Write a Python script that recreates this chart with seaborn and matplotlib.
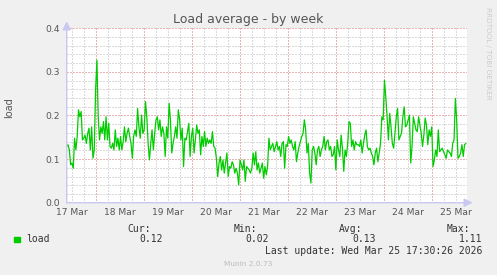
import numpy as np
import pandas as pd
import matplotlib
matplotlib.use("Agg")
import matplotlib.pyplot as plt
import matplotlib.dates as mdates
import seaborn as sns

# ---------------- data ----------------
title = "Load average - by week"
y_label = "load"
series_name = "load"
t_start = "2026-03-17 09:30"
t_end = "2026-03-25 17:30"
data_end = "2026-03-25 17:05"

load_a = [0.129, 0.133, 0.121, 0.087, 0.091, 0.079, 0.148, 0.121, 0.152, 0.213, 0.197, 0.209,
          0.144, 0.148, 0.155, 0.136, 0.159, 0.171, 0.121, 0.174, 0.102, 0.121, 0.258, 0.327,
          0.197, 0.144, 0.174, 0.159, 0.186, 0.144, 0.197, 0.144, 0.182, 0.129, 0.125, 0.136,
          0.121, 0.167, 0.129, 0.148, 0.121, 0.152, 0.121, 0.140, 0.174, 0.140, 0.159, 0.171,
          0.152, 0.136, 0.102, 0.152, 0.167, 0.152, 0.216, 0.174, 0.148, 0.201, 0.159, 0.167,
          0.232, 0.197, 0.136, 0.098, 0.136, 0.167, 0.121, 0.159, 0.190, 0.197, 0.167, 0.190,
          0.152, 0.174, 0.159, 0.106]
load_b = [0.174, 0.148, 0.228, 0.190, 0.114, 0.136, 0.152, 0.174, 0.148, 0.213, 0.190, 0.144,
          0.171, 0.083, 0.148, 0.144, 0.163, 0.182, 0.106, 0.152, 0.171, 0.114, 0.144, 0.178,
          0.159, 0.167, 0.110, 0.152, 0.129, 0.163, 0.129, 0.148, 0.136, 0.144, 0.136, 0.163,
          0.129, 0.125, 0.102, 0.060, 0.091, 0.106, 0.075, 0.098, 0.068, 0.091, 0.114, 0.060,
          0.083, 0.079, 0.094, 0.087, 0.068, 0.079, 0.068, 0.041, 0.098, 0.087, 0.075, 0.098,
          0.049, 0.083, 0.079, 0.075, 0.068, 0.079, 0.114, 0.087, 0.117, 0.075, 0.091, 0.068,
          0.079, 0.091, 0.056, 0.083]
load_c = [0.064, 0.083, 0.148, 0.121, 0.129, 0.136, 0.117, 0.129, 0.140, 0.121, 0.129, 0.106,
          0.136, 0.140, 0.079, 0.133, 0.129, 0.152, 0.136, 0.144, 0.129, 0.121, 0.140, 0.094,
          0.114, 0.129, 0.140, 0.152, 0.159, 0.190, 0.167, 0.114, 0.136, 0.068, 0.045, 0.121,
          0.129, 0.114, 0.087, 0.121, 0.129, 0.106, 0.121, 0.129, 0.152, 0.121, 0.140, 0.144,
          0.121, 0.129, 0.106, 0.110, 0.129, 0.075, 0.144, 0.121, 0.106, 0.155, 0.125, 0.072,
          0.121, 0.106, 0.136, 0.186, 0.182, 0.129, 0.144, 0.121, 0.140, 0.133, 0.133, 0.129,
          0.144, 0.114, 0.136, 0.155]
load_d = [0.167, 0.129, 0.121, 0.125, 0.114, 0.106, 0.087, 0.114, 0.125, 0.094, 0.114, 0.136,
          0.197, 0.190, 0.281, 0.243, 0.197, 0.144, 0.205, 0.174, 0.136, 0.125, 0.159, 0.197,
          0.216, 0.144, 0.152, 0.159, 0.197, 0.220, 0.174, 0.178, 0.190, 0.201, 0.091, 0.129,
          0.197, 0.182, 0.167, 0.163, 0.197, 0.178, 0.159, 0.129, 0.155, 0.194, 0.178, 0.133,
          0.167, 0.152, 0.174, 0.083, 0.098, 0.121, 0.106, 0.167, 0.117, 0.121, 0.125, 0.117,
          0.110, 0.102, 0.121, 0.117, 0.114, 0.106, 0.136, 0.144, 0.239, 0.190, 0.102, 0.106,
          0.114, 0.133, 0.106, 0.133, 0.136]
load_values = load_a + load_b + load_c + load_d

y_ticks = [0.0, 0.1, 0.2, 0.3, 0.4]
y_tick_labels = ["0.0", "0.1", "0.2", "0.3", "0.4"]
day_dates = ["2026-03-17", "2026-03-18", "2026-03-19", "2026-03-20", "2026-03-21",
             "2026-03-22", "2026-03-23", "2026-03-24", "2026-03-25"]
day_labels = ["17 Mar", "18 Mar", "19 Mar", "20 Mar", "21 Mar",
              "22 Mar", "23 Mar", "24 Mar", "25 Mar"]
stat_names = ["Cur:", "Min:", "Avg:", "Max:"]
stat_values = ["0.12", "0.02", "0.13", "1.11"]
last_update = "Last update: Wed Mar 25 17:30:26 2026"
footer = "Munin 2.0.73"
side_text = "RRDTOOL / TOBI OETIKER"

# ---------------- figure ----------------
sns.set_style("white")
plt.rcParams["font.family"] = ["DejaVu Sans"]

W, H = 497, 275
fig = plt.figure(figsize=(W / 100, H / 100), dpi=100, facecolor="#F0F0F0")
ax = fig.add_axes([66.7 / W, (H - 202.7) / H, 400 / W, 174.4 / H])
ax.set_facecolor("white")

times = pd.date_range(t_start, data_end, periods=len(load_values))
df = pd.DataFrame({"time": times, "load": load_values})

x0 = pd.Timestamp(t_start)
x1 = pd.Timestamp(t_end)

# grid
minor_col = "#DADADA"
major_col = "#EBB4B4"
dot = (0, (1.4, 1.4))
gkw = dict(lw=0.72, ls=dot, zorder=1, antialiased=False)
for t in pd.date_range("2026-03-17 12:00", t_end, freq="6h"):
    if t.hour != 0:
        ax.axvline(t, color=minor_col, **gkw)
for t in pd.date_range("2026-03-18 00:00", t_end, freq="1D"):
    ax.axvline(t, color=major_col, **gkw)
for v in np.arange(0.02, 0.401, 0.02):
    if abs(v * 10 - round(v * 10)) > 1e-6:
        ax.axhline(v, color=minor_col, **gkw)
for v in y_ticks[1:]:
    ax.axhline(v, color=major_col, **gkw)

sns.lineplot(data=df, x="time", y="load", ax=ax, color="#00CC00", lw=0.9,
             legend=False, zorder=3)

ax.set_xlim(x0, x1)
ax.set_ylim(0, 0.4)
ax.set_yticks(y_ticks)
ax.set_yticklabels(y_tick_labels)
ax.set_xticks([pd.Timestamp(d) + pd.Timedelta(hours=12) for d in day_dates])
ax.set_xticklabels(day_labels)
ax.tick_params(axis="both", length=0, labelsize=6.6, colors="#555555")
ax.tick_params(axis="x", pad=4)
ax.tick_params(axis="y", pad=5)
ax.set_xlabel("")
ax.set_ylabel("")
for s in ax.spines.values():
    s.set_visible(False)

axis_col = "#C8C8F0"
ax.annotate("", xy=(0, 1.0 + 7 / 174.4), xytext=(0, 0), xycoords="axes fraction",
            arrowprops=dict(arrowstyle="-|>,head_length=0.5,head_width=0.25",
                            color=axis_col, lw=1.0, shrinkA=0, shrinkB=0),
            annotation_clip=False, zorder=5)
ax.annotate("", xy=(1.0 + 6 / 400, 0), xytext=(0, 0), xycoords="axes fraction",
            arrowprops=dict(arrowstyle="-|>,head_length=0.5,head_width=0.25",
                            color=axis_col, lw=1.0, shrinkA=0, shrinkB=0),
            annotation_clip=False, zorder=5)

# texts
def px(x, y):
    return x / W, 1 - y / H

fig.text(*px(248, 19), title, ha="center", va="center", fontsize=9, color="#555555")
fig.text(*px(9, 108), y_label, ha="center", va="center", rotation=90, fontsize=7,
         color="#555555")
fig.text(*px(488, 53), side_text, ha="center", va="center", rotation=270,
         fontsize=5.2, color="#CCCCCC")

mono = "DejaVu Sans Mono"
fig.patches.append(plt.Rectangle(px(14, 242), 6 / W, 5 / H, transform=fig.transFigure,
                                 color="#00CC00", figure=fig))
fig.text(*px(26.5, 239.5), series_name, ha="left", va="center", fontsize=7,
         family=mono, color="#333333")
name_right = [150.7, 257.3, 362.7, 470]
val_right = [162.7, 269.3, 375.7, 482.3]
for nm, vl, nx, vx in zip(stat_names, stat_values, name_right, val_right):
    fig.text(*px(nx, 228.5), nm, ha="right", va="center", fontsize=7, family=mono,
             color="#333333")
    fig.text(*px(vx, 239.5), vl, ha="right", va="center", fontsize=7, family=mono,
             color="#333333")
fig.text(*px(482.3, 251), last_update, ha="right", va="center", fontsize=7, family=mono,
         color="#333333")
fig.text(*px(248, 264), footer, ha="center", va="center", fontsize=5.3, color="#BBBBBB")

fig.savefig("out.png", dpi=100, facecolor=fig.get_facecolor())
